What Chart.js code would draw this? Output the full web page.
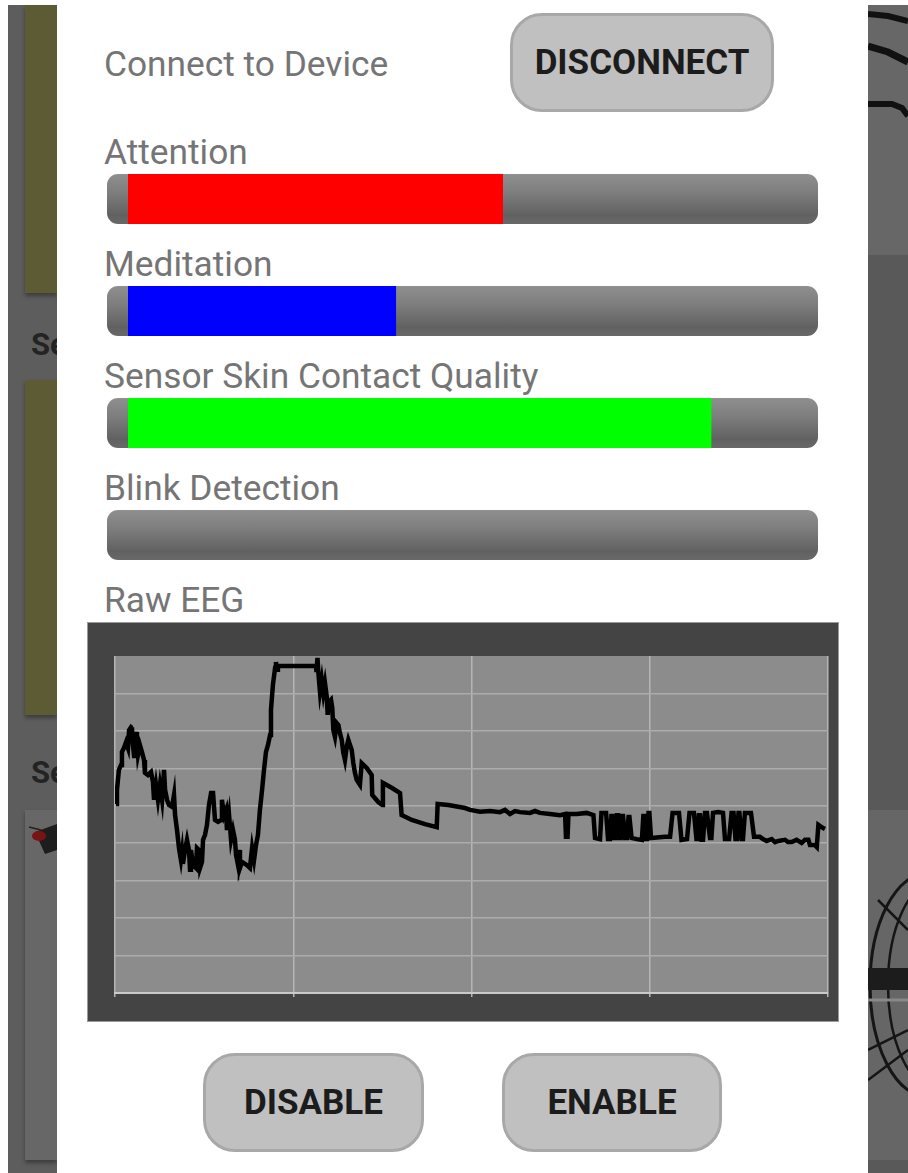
<!DOCTYPE html>
<html>
<head>
<meta charset="utf-8">
<script src="https://cdn.jsdelivr.net/npm/chart.js@4.4.1/dist/chart.umd.min.js"></script>
<style>
  html, body { margin: 0; padding: 0; }
  body {
    width: 908px; height: 1173px; position: relative; overflow: hidden;
    background: #fff; font-family: Roboto, "Noto Sans", sans-serif;
  }
  .abs { position: absolute; }
  .side { background: #5d5d5d; }
  .olive { background: #5d5b33; box-shadow: 0 3px 4px rgba(0,0,0,0.35); }
  .se { font-weight: bold; font-size: 31px; color: #232323; height: 40px; line-height: 40px; }
  .label { left: 104px; font-size: 35.3px; color: #757575; height: 40px; line-height: 40px; white-space: nowrap; }
  .track {
    left: 107px; width: 711px; height: 50px; border-radius: 11px;
    background: linear-gradient(#8f8f8f 0%, #7c7c7c 40%, #606160 82%, #686868 100%);
  }
  .btn {
    box-sizing: border-box; background: #c0c0c0; border: 3px solid #a8a8a8; border-radius: 32px;
    font-weight: bold; font-size: 35px; color: #1c1c1c; text-align: center;
  }
  #eegBox { left: 88px; top: 623px; width: 750px; height: 398px; background: #444; box-shadow: 0 0 0 1px #9a9a9a; }
</style>
</head>
<body>
<!-- dimmed app behind the dialog -->
<div class="abs side" style="left:8px;top:5px;width:49px;height:1168px;"></div>
<div class="abs olive" style="left:25px;top:5px;width:32px;height:288px;"></div>
<div class="abs se" style="left:31px;top:325px;">Se</div>
<div class="abs olive" style="left:25px;top:380px;width:32px;height:335px;"></div>
<div class="abs se" style="left:31px;top:753px;">Se</div>
<div class="abs" style="left:25px;top:810px;width:32px;height:350px;background:#676767;box-shadow:0 3px 4px rgba(0,0,0,0.35);"></div>
<svg class="abs" style="left:25px;top:810px;" width="32" height="60">
  <path d="M10 22 L32 14 L32 40 L20 44 Z" fill="#1d1d1d"/>
  <ellipse cx="14" cy="26" rx="7" ry="5" fill="#7a1414"/>
  <path d="M4 17 L16 20" stroke="#222" stroke-width="1.5"/>
</svg>

<div class="abs" style="left:868px;top:5px;width:40px;height:1168px;background:#595959;"></div>
<div class="abs" style="left:868px;top:5px;width:40px;height:250px;background:#676767;"></div>
<div class="abs" style="left:868px;top:810px;width:40px;height:350px;background:#666;"></div>
<svg class="abs" style="left:868px;top:0px;" width="40" height="1173">
  <polyline points="0,14 20,16 40,21" stroke="#111" stroke-width="6" fill="none"/>
  <polyline points="0,46 20,52 40,62" stroke="#111" stroke-width="7" fill="none"/>
  <polyline points="0,104 24,104 34,108 40,116" stroke="#111" stroke-width="6" fill="none"/>
  <ellipse cx="60" cy="985" rx="58" ry="112" stroke="#151515" stroke-width="3" fill="none"/>
  <ellipse cx="70" cy="985" rx="50" ry="105" stroke="#151515" stroke-width="2.5" fill="none"/>
  <rect x="0" y="968" width="40" height="22" fill="#1c1c1c"/>
  <path d="M0 1050 L40 1030 M0 1080 L40 1050 M10 900 L40 930" stroke="#151515" stroke-width="2.5" fill="none"/>
  <path d="M0 1000 L40 1000" stroke="#888" stroke-width="3"/>
</svg>

<!-- dialog -->
<div class="abs" style="left:57px;top:0;width:811px;height:1173px;background:#fff;"></div>
<div class="abs label" style="top:44px;">Connect to Device</div>
<div class="abs btn" style="left:510px;top:13px;width:264px;height:99px;line-height:93px;">DISCONNECT</div>

<div id="meters"></div>

<div class="abs label" style="top:580px;">Raw EEG</div>
<div id="eegBox" class="abs"><canvas id="eeg" width="750" height="398"></canvas></div>

<div class="abs btn" style="left:203px;top:1053px;width:221px;height:99px;line-height:93px;">DISABLE</div>
<div class="abs btn" style="left:502px;top:1053px;width:220px;height:99px;line-height:93px;">ENABLE</div>

<script>
// meters (0-100)
const meterLabels = ['Attention', 'Meditation', 'Sensor Skin Contact Quality', 'Blink Detection'];
const meterValues = [54.3, 38.8, 84.5, 0];
const meterColors = ['#ff0000', '#0000ff', '#00ff00', 'rgba(0,0,0,0)'];

// raw EEG trace (x: 0-400 samples, y: 0-900)
const eegX = [0.6, 1.1, 2.2, 3.4, 3.9, 5.0, 6.2, 7.3, 7.9, 9.0,
  9.5, 10.1, 10.7, 11.2, 11.8, 12.3, 12.9, 14.0, 15.1, 16.3,
  16.8, 18.5, 20.2, 21.3, 21.9, 23.0, 24.1, 25.2, 26.4, 27.5,
  28.1, 29.2, 30.3, 32.0, 33.1, 33.7, 34.8, 35.9, 37.0, 37.6,
  38.1, 39.3, 40.4, 41.5, 42.1, 42.6, 43.8, 45.4, 46.0, 47.1,
  47.7, 48.8, 49.4, 50.5, 51.6, 52.7, 53.9, 55.0, 56.1, 57.8,
  59.5, 60.0, 61.2, 62.3, 62.8, 64.0, 65.1, 66.2, 67.3, 67.9,
  69.0, 69.6, 70.1, 71.2, 72.9, 74.6, 75.7, 76.9, 78.0, 79.1,
  80.2, 81.3, 82.5, 83.6, 84.7, 85.8, 87.0, 87.5, 88.6, 89.8,
  90.3, 90.9, 91.4,
  112.8, 113.0, 113.6, 114.1, 115.0, 116.0, 116.9, 117.8, 118.8, 119.3,
  120.1, 121.2, 121.9, 122.5, 123.4, 124.4, 125.3, 126.2, 127.2, 128.1,
  129.0, 130.0, 130.9, 132.8, 133.7, 134.6, 135.6, 137.4, 138.4, 141.2,
  144.0, 144.3, 147.7, 150.0, 150.3, 155.2, 159.9, 160.8, 166.5, 173.9,
  180.5, 181.0, 187.0, 196.4,
  199.2, 204.8, 210.4, 216.0, 218.8, 221.6, 224.4, 227.2, 232.8, 235.6,
  238.4, 244.0, 249.6, 252.5, 253.0, 253.9, 254.4, 259.0, 264.6, 268.4,
  269.3, 272.1, 272.9, 275.5, 276.6, 277.7, 278.5, 279.1, 279.9, 280.8,
  281.6, 282.2, 283.0, 283.6, 284.4, 285.0, 286.1, 287.2, 288.1, 288.6,
  289.8, 292.7, 295.6, 296.4, 296.8, 297.6, 298.5, 299.3, 299.8, 300.7,
  308.6, 311.4, 312.8, 316.4, 317.8, 320.9, 322.3, 324.8, 326.2, 326.8,
  327.6, 328.2, 329.0, 329.9, 331.0, 332.1, 333.8, 334.6, 335.5, 338.3,
  341.1, 342.2, 344.5, 345.9, 347.0, 348.1, 348.9, 349.8, 350.3, 351.5,
  352.3, 353.4, 356.8, 358.5, 361.8, 363.5, 365.6, 368.4, 370.3, 372.1,
  375.9, 377.5, 379.6, 382.4, 385.2, 387.1, 389.0, 389.9, 392.7, 393.7,
  394.6, 396.4, 398.3];
const eegY = [505, 542, 596, 609, 644, 654, 670, 654, 702, 710,
  708, 662, 633, 662, 697, 676, 636, 662, 644, 622,
  588, 582, 590, 564, 516, 556, 516, 556, 516, 596,
  542, 516, 502, 497, 529, 475, 435, 387, 355, 377,
  345, 382, 409, 382, 329, 382, 342, 334, 387, 382,
  334, 350, 409, 422, 449, 502, 534, 534, 462, 457,
  462, 516, 475, 489, 435, 475, 409, 435, 409, 369,
  342, 382, 334, 350, 345, 339, 334, 387, 355, 395,
  422, 489, 542, 596, 644, 662, 689, 756, 823, 868,
  884, 863, 873,
  873, 857, 895, 855, 804, 836, 801, 828, 791, 743,
  777, 783, 761, 702, 684, 721, 716, 694, 676, 641,
  622, 657, 676, 649, 614, 588, 569, 556, 614, 601,
  582, 529, 510, 502, 561, 548, 534, 475, 462, 451,
  443, 505, 502, 494,
  489, 484, 486, 483, 489, 478, 486, 483, 481, 486,
  481, 478, 475, 478, 417, 417, 478, 478, 481, 475,
  414, 411, 481, 481, 411, 411, 473, 473, 414, 414,
  475, 475, 414, 414, 473, 473, 414, 414, 470, 470,
  414, 411, 409, 473, 473, 411, 411, 481, 481, 414,
  417, 417, 481, 481, 409, 411, 481, 481, 411, 411,
  475, 475, 409, 409, 481, 481, 414, 414, 481, 483,
  481, 411, 411, 481, 481, 411, 411, 481, 481, 411,
  411, 481, 481, 417, 417, 411, 406, 411, 403, 406,
  409, 403, 403, 409, 401, 409, 409, 395, 395, 390,
  449, 443, 438];
const xTicks = [0, 100, 200, 300, 400];
const yTicks = [0, 100, 200, 300, 400, 500, 600, 700, 800, 900];

// build the meter rows
const metersDiv = document.getElementById('meters');
meterLabels.forEach(function(name, i) {
    const rowTop = i * 112;
    metersDiv.innerHTML += `
        <div class="abs label" style="top:${132 + rowTop}px;">${name}</div>
        <div class="abs track" style="top:${174 + rowTop}px;"></div>
        <canvas id="meter${i}" class="abs" width="690" height="50" style="left:128px;top:${174 + rowTop}px;"></canvas>
    `;
});

meterLabels.forEach(function(name, i) {
    new Chart(document.getElementById('meter' + i), {
        type: 'bar',
        data: {
            labels: [name],
            datasets: [{
                data: [meterValues[i]],
                backgroundColor: meterColors[i],
                borderWidth: 0,
                barPercentage: 1,
                categoryPercentage: 1
            }]
        },
        options: {
            indexAxis: 'y',
            responsive: false,
            animation: false,
            layout: { padding: 0 },
            plugins: { legend: { display: false }, tooltip: { enabled: false } },
            scales: {
                x: { min: 0, max: 100, display: false },
                y: { display: false }
            }
        }
    });
});

// grey plot background
const plotBg = {
    id: 'plotBg',
    beforeDraw(chart) {
        const { ctx, chartArea: a } = chart;
        ctx.save();
        ctx.fillStyle = '#8c8c8c';
        ctx.fillRect(a.left, a.top, a.right - a.left, a.bottom - a.top);
        ctx.restore();
    }
};

new Chart(document.getElementById('eeg'), {
    type: 'line',
    data: {
        datasets: [{
            data: eegX.map((x, i) => ({ x: x, y: eegY[i] })),
            borderColor: '#000',
            borderWidth: 4.5,
            pointRadius: 0,
            tension: 0,
            fill: false
        }]
    },
    options: {
        responsive: false,
        animation: false,
        layout: { padding: { left: 27, right: 10, top: 33, bottom: 24 } },
        plugins: { legend: { display: false }, tooltip: { enabled: false } },
        scales: {
            x: {
                type: 'linear', min: 0, max: 400,
                afterBuildTicks: axis => { axis.ticks = xTicks.map(v => ({ value: v })); },
                ticks: { display: false },
                grid: { color: '#b5b5b5', lineWidth: 1.5, drawTicks: true, tickLength: 4 },
                border: { color: '#cacaca', width: 2 }
            },
            y: {
                type: 'linear', min: 0, max: 900,
                afterBuildTicks: axis => { axis.ticks = yTicks.map(v => ({ value: v })); },
                ticks: { display: false },
                grid: {
                    color: ctx => (ctx.tick && ctx.tick.value === 900) ? 'rgba(0,0,0,0)' : '#acacac',
                    lineWidth: 1.5, drawTicks: false
                },
                border: { display: false }
            }
        }
    },
    plugins: [plotBg]
});
</script>
</body>
</html>
